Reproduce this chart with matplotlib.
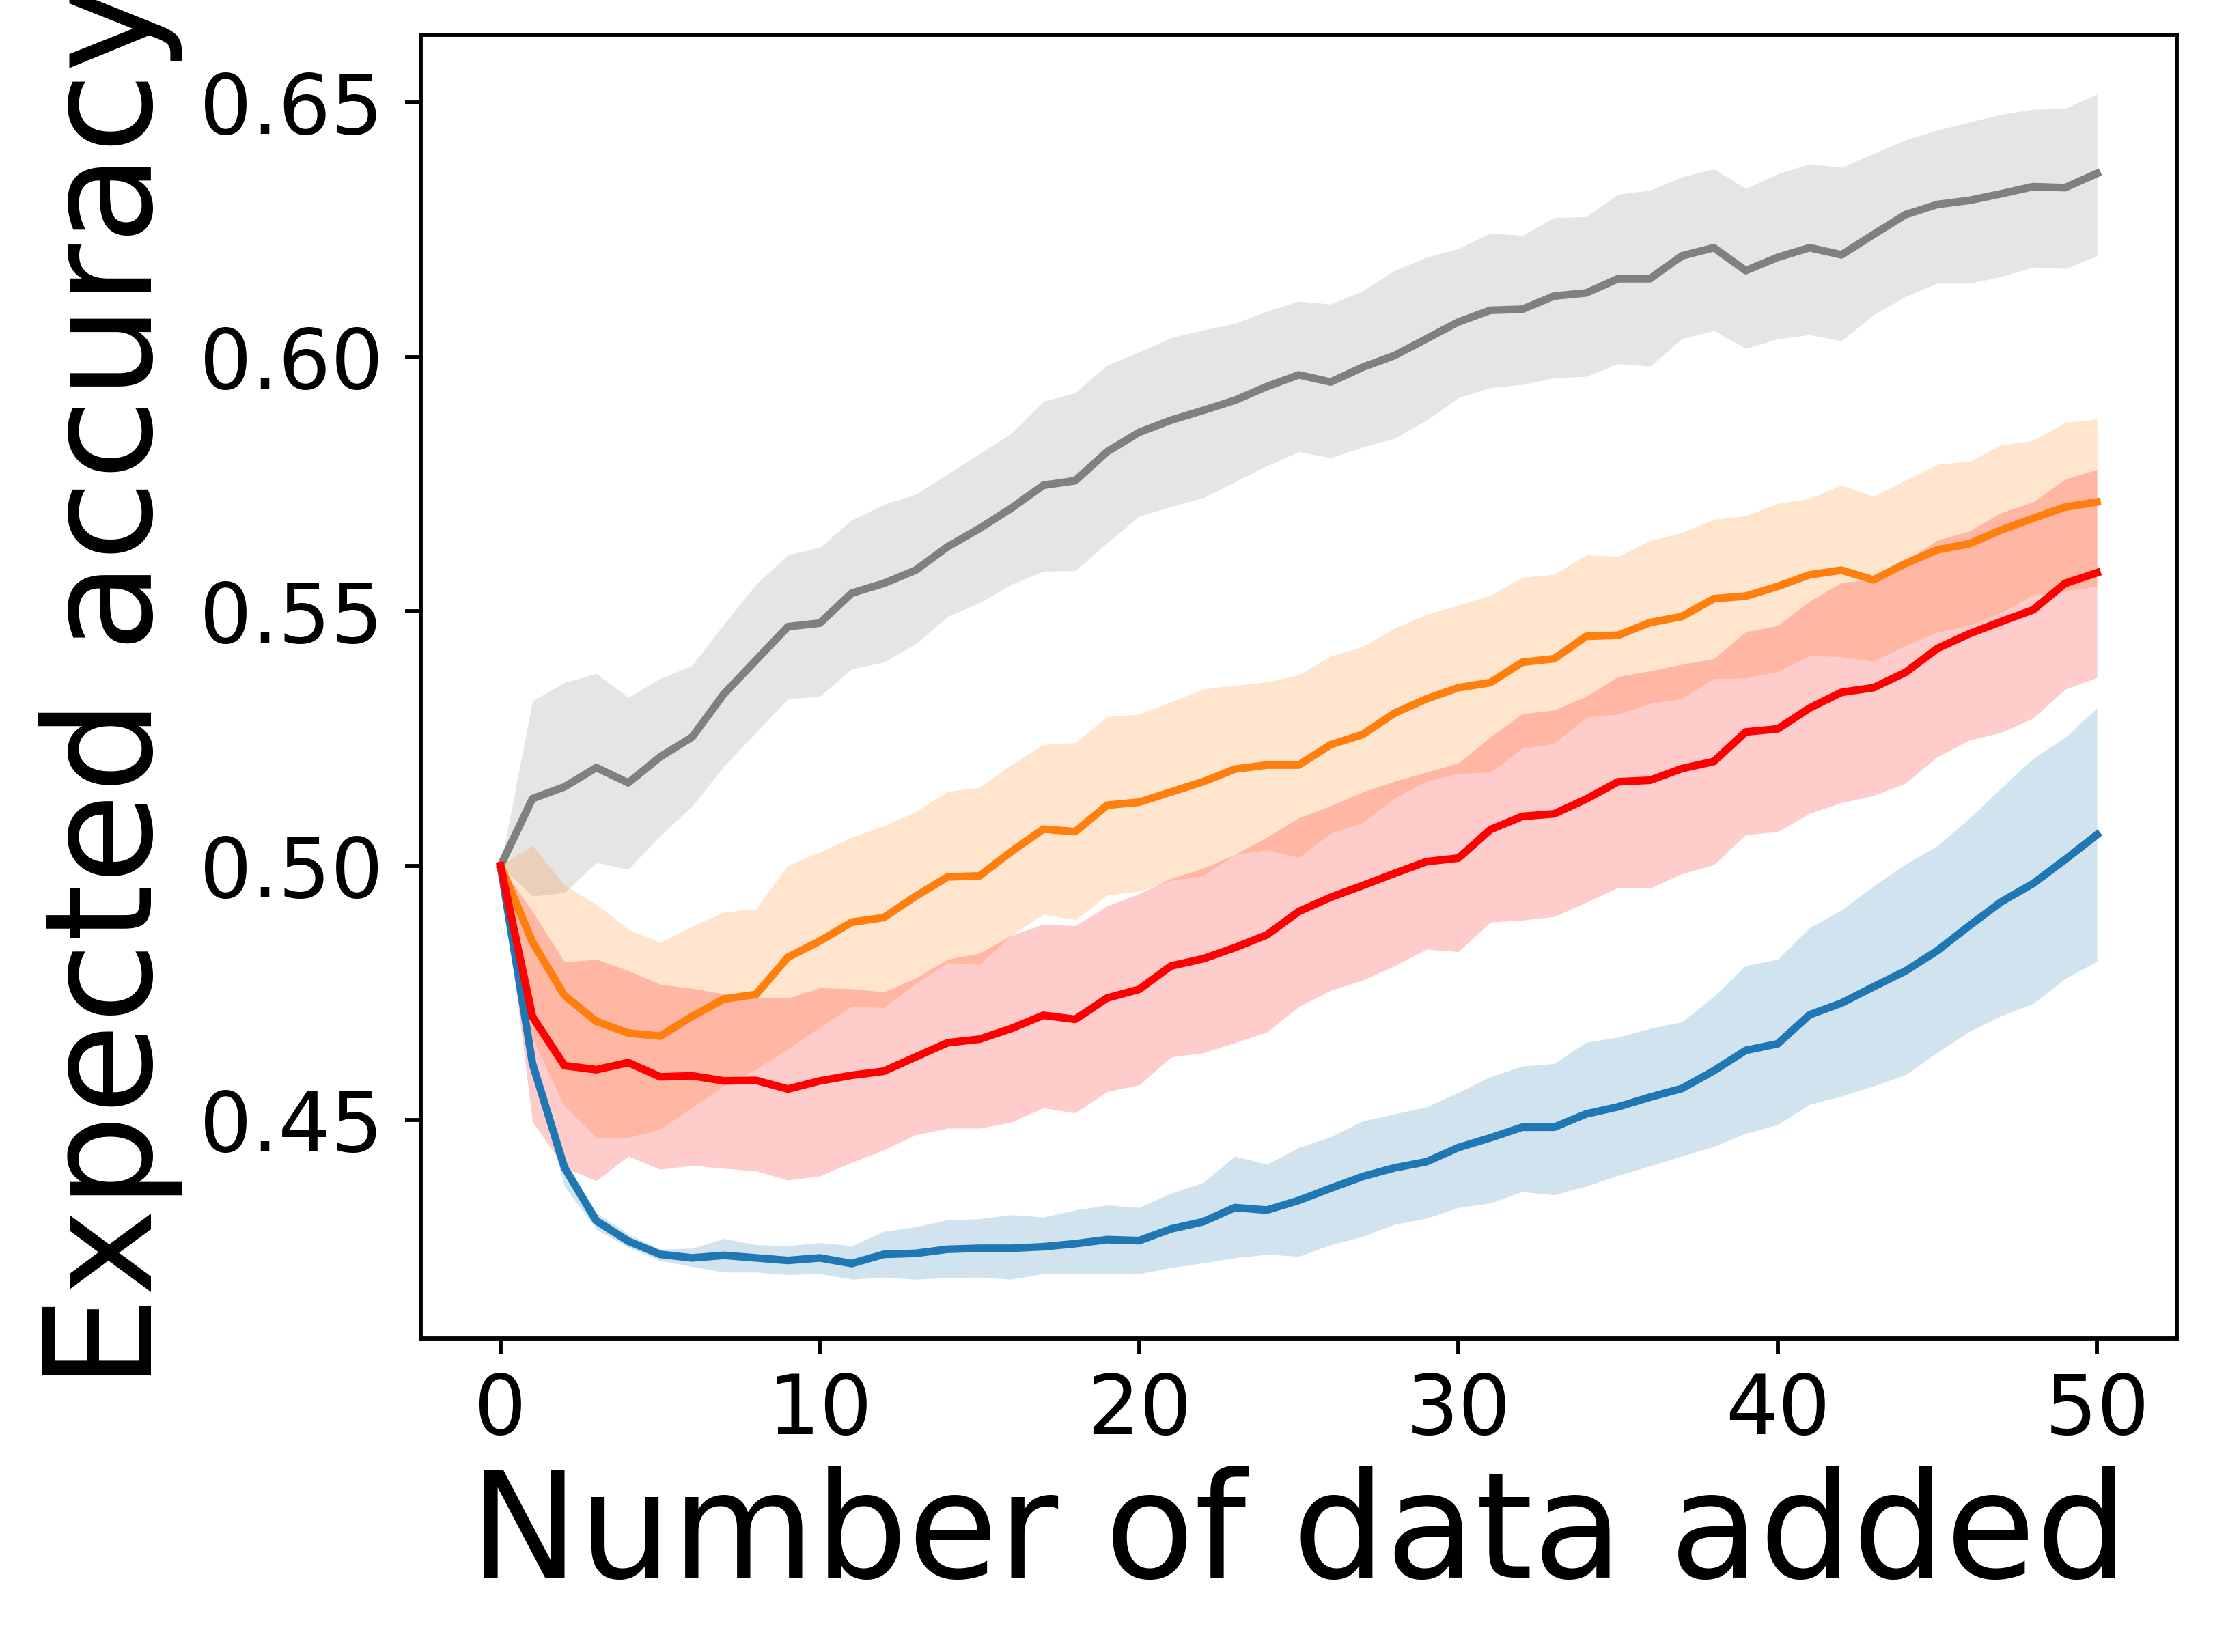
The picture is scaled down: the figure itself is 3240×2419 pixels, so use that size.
import numpy as np
import matplotlib
matplotlib.use("Agg")
import matplotlib.pyplot as plt

# x values: number of data added
n_added = list(range(51))

# ---- gray series ----
gray_mean = [0.5, 0.5132, 0.5155, 0.5193, 0.5163, 0.5214, 0.5253, 0.5338, 0.5404, 0.547,
             0.5477, 0.5536, 0.5555, 0.5581, 0.5627, 0.5663, 0.5703, 0.5748, 0.5757, 0.5814,
             0.5852, 0.5876, 0.5895, 0.5915, 0.5942, 0.5965, 0.5951, 0.598, 0.6003, 0.6036,
             0.6069, 0.6092, 0.6094, 0.612, 0.6126, 0.6154, 0.6154, 0.6199, 0.6215, 0.617,
             0.6196, 0.6215, 0.6201, 0.6241, 0.628, 0.630, 0.6308, 0.6321, 0.6335, 0.6333,
             0.6361]
gray_upper = [0.5, 0.5324, 0.536, 0.5378, 0.5331, 0.5368, 0.5394, 0.5475, 0.5553, 0.5611,
              0.5626, 0.568, 0.571, 0.573, 0.577, 0.581, 0.585, 0.5913, 0.593, 0.5984,
              0.601, 0.6038, 0.6053, 0.6066, 0.609, 0.611, 0.6104, 0.613, 0.617, 0.6196,
              0.6213, 0.6244, 0.6239, 0.6274, 0.6276, 0.632, 0.6328, 0.6354, 0.637, 0.6331,
              0.636, 0.638, 0.6373, 0.640, 0.6427, 0.6446, 0.6462, 0.6477, 0.6487, 0.6489,
              0.6517]
gray_lower = [0.5, 0.4940, 0.4947, 0.5006, 0.4993, 0.5059, 0.5117, 0.5196, 0.5262, 0.5328,
              0.5333, 0.5387, 0.540, 0.5436, 0.5490, 0.5517, 0.5553, 0.5579, 0.558, 0.5635,
              0.5687, 0.5706, 0.5723, 0.5755, 0.5786, 0.5814, 0.5802, 0.5823, 0.584, 0.5876,
              0.592, 0.594, 0.5946, 0.5959, 0.5962, 0.5987, 0.5982, 0.6036, 0.6052, 0.6017,
              0.6036, 0.6044, 0.6032, 0.6083, 0.6119, 0.6145, 0.6145, 0.6158, 0.6177, 0.6174,
              0.6199]

# ---- orange series ----
orange_mean = [0.5, 0.485, 0.4745, 0.4694, 0.4671, 0.4665, 0.4704, 0.4738, 0.4747, 0.482,
               0.4852, 0.4889, 0.4898, 0.4940, 0.4978, 0.498, 0.5028, 0.5072, 0.5067, 0.5119,
               0.5125, 0.5145, 0.5165, 0.519, 0.5198, 0.5198, 0.5238, 0.5258, 0.530, 0.5328,
               0.5350, 0.5360, 0.5400, 0.5407, 0.5451, 0.5453, 0.5478, 0.5490, 0.5525, 0.5530,
               0.5549, 0.5572, 0.5581, 0.5562, 0.5594, 0.5621, 0.5633, 0.566, 0.5683, 0.5705,
               0.5715]
orange_upper = [0.5, 0.504, 0.4962, 0.4924, 0.4875, 0.4849, 0.4881, 0.4909, 0.4915, 0.5001,
                0.5027, 0.5056, 0.5078, 0.5106, 0.5146, 0.5154, 0.5199, 0.5238, 0.5242, 0.5293,
                0.5298, 0.5322, 0.5347, 0.5355, 0.5361, 0.5375, 0.5412, 0.5431, 0.5467, 0.5494,
                0.5512, 0.5532, 0.5567, 0.5573, 0.5611, 0.5608, 0.5639, 0.5655, 0.5681, 0.5688,
                0.5712, 0.5722, 0.5748, 0.5726, 0.5758, 0.5789, 0.5795, 0.5827, 0.5836, 0.5871,
                0.5878]
orange_lower = [0.5, 0.466, 0.4527, 0.4466, 0.4466, 0.4482, 0.4525, 0.4568, 0.4600, 0.4640,
                0.4683, 0.4724, 0.4721, 0.4768, 0.4809, 0.4806, 0.4863, 0.4905, 0.4894, 0.4942,
                0.4950, 0.4971, 0.4980, 0.5022, 0.5031, 0.5016, 0.5064, 0.5085, 0.5133, 0.5166,
                0.5181, 0.5184, 0.5231, 0.5240, 0.5292, 0.5298, 0.5319, 0.5329, 0.5368, 0.5369,
                0.5382, 0.5413, 0.5411, 0.5402, 0.5433, 0.5459, 0.5472, 0.5497, 0.5533, 0.5539,
                0.555]

# ---- red series ----
red_mean = [0.5, 0.4703, 0.4607, 0.4599, 0.4613, 0.4585, 0.4587, 0.4577, 0.4578, 0.4561,
            0.4577, 0.4588, 0.4596, 0.4624, 0.4652, 0.4659, 0.468, 0.4706, 0.4698, 0.474,
            0.4757, 0.4803, 0.4817, 0.4839, 0.4864, 0.491, 0.4938, 0.4961, 0.4985, 0.5008,
            0.5015, 0.5071, 0.5097, 0.5102, 0.5131, 0.5165, 0.5168, 0.5191, 0.5205, 0.5263,
            0.5269, 0.531, 0.5341, 0.535, 0.538, 0.5427, 0.5456, 0.548, 0.5503, 0.5555,
            0.5576]
red_upper = [0.5, 0.491, 0.4811, 0.4816, 0.4794, 0.4767, 0.4759, 0.4748, 0.4741, 0.474,
             0.476, 0.4758, 0.4752, 0.4779, 0.4816, 0.4828, 0.4863, 0.4885, 0.4882, 0.4921,
             0.4945, 0.4975, 0.4995, 0.5022, 0.5056, 0.5094, 0.5118, 0.5145, 0.5166, 0.5184,
             0.5202, 0.5253, 0.5299, 0.5306, 0.5333, 0.5372, 0.5383, 0.5396, 0.5407, 0.546,
             0.5472, 0.552, 0.5557, 0.5563, 0.5599, 0.564, 0.5658, 0.5694, 0.5715, 0.576,
             0.5779]
red_lower = [0.5, 0.4497, 0.4406, 0.4381, 0.4429, 0.4403, 0.4411, 0.4405, 0.4400, 0.4382,
             0.4390, 0.4417, 0.4441, 0.4471, 0.4484, 0.4484, 0.4496, 0.4524, 0.4514, 0.4556,
             0.4569, 0.4624, 0.4632, 0.4652, 0.4673, 0.4723, 0.4755, 0.4775, 0.4803, 0.4836,
             0.4831, 0.4889, 0.4893, 0.49, 0.4928, 0.4957, 0.4956, 0.4984, 0.5002, 0.5061,
             0.5067, 0.5103, 0.5124, 0.5138, 0.5162, 0.5214, 0.5247, 0.5262, 0.529, 0.5347,
             0.537]

# ---- blue series ----
blue_mean = [0.5, 0.4611, 0.4407, 0.4302, 0.4262, 0.4236, 0.4229, 0.4234, 0.4229, 0.4224,
             0.4229, 0.4218, 0.4236, 0.4238, 0.4246, 0.4248, 0.4248, 0.4251, 0.4257, 0.4265,
             0.4263, 0.4286, 0.430, 0.4328, 0.4323, 0.4342, 0.4366, 0.4389, 0.4406, 0.4418,
             0.4446, 0.4465, 0.4486, 0.4486, 0.4512, 0.4526, 0.4545, 0.4562, 0.4597, 0.4637,
             0.465, 0.4707, 0.473, 0.4762, 0.4793, 0.4833, 0.4882, 0.4929, 0.4965, 0.5012,
             0.5061]
blue_upper = [0.5, 0.4625, 0.4418, 0.4318, 0.4276, 0.4246, 0.4248, 0.4267, 0.4255, 0.4253,
              0.4259, 0.4253, 0.4281, 0.429, 0.4304, 0.4306, 0.4314, 0.4309, 0.4323, 0.4333,
              0.4328, 0.4356, 0.4377, 0.4429, 0.4413, 0.4446, 0.4467, 0.4498, 0.4512, 0.4526,
              0.4554, 0.4585, 0.4606, 0.4611, 0.4653, 0.4663, 0.468, 0.4693, 0.4743, 0.4804,
              0.4816, 0.4878, 0.4913, 0.4960, 0.5003, 0.5039, 0.5093, 0.5153, 0.5211, 0.5252,
              0.5310]
blue_lower = [0.5, 0.460, 0.437, 0.4285, 0.425, 0.4224, 0.4212, 0.4201, 0.4201, 0.4196,
              0.4198, 0.4187, 0.4191, 0.4187, 0.419, 0.4191, 0.4187, 0.4198, 0.4198, 0.4198,
              0.4198, 0.421, 0.4219, 0.4229, 0.4236, 0.4232, 0.4255, 0.4271, 0.4295, 0.4307,
              0.4328, 0.4337, 0.4359, 0.4353, 0.437, 0.4391, 0.441, 0.4429, 0.4448, 0.4474,
              0.4491, 0.4531, 0.4547, 0.4567, 0.4589, 0.4633, 0.4674, 0.4705, 0.4729, 0.4778,
              0.4812]

x_label = "Number of data added"
y_label = "Expected accuracy"
x_ticks = [0, 10, 20, 30, 40, 50]
y_ticks = [0.45, 0.50, 0.55, 0.60, 0.65]

series = [
    (gray_mean, gray_lower, gray_upper, "gray"),
    (blue_mean, blue_lower, blue_upper, "tab:blue"),
    (orange_mean, orange_lower, orange_upper, "tab:orange"),
    (red_mean, red_lower, red_upper, "red"),
]

fig = plt.figure(figsize=(10.8, 2419 / 300), dpi=300)
ax = fig.add_axes([0.19012, 0.18975, 0.79352, 0.78917])

x = np.array(n_added)
for mean, lo, hi, col in series:
    ax.fill_between(x, lo, hi, color=col, alpha=0.2, linewidth=0)
for mean, lo, hi, col in series:
    ax.plot(x, mean, color=col, linewidth=2.7)

ax.set_xticks(x_ticks)
ax.set_yticks(y_ticks)
ax.set_yticklabels([f"{v:.2f}" for v in y_ticks])
ax.tick_params(axis="both", labelsize=29, length=5.6, width=1.4)
ax.tick_params(axis="x", pad=6)
ax.tick_params(axis="y", pad=7.5)
for sp in ax.spines.values():
    sp.set_linewidth(1.4)

ax.set_xlabel(x_label, fontsize=51.5, labelpad=5)
ax.set_ylabel(y_label, fontsize=52, labelpad=6)

fig.savefig("out.png", dpi=300)
